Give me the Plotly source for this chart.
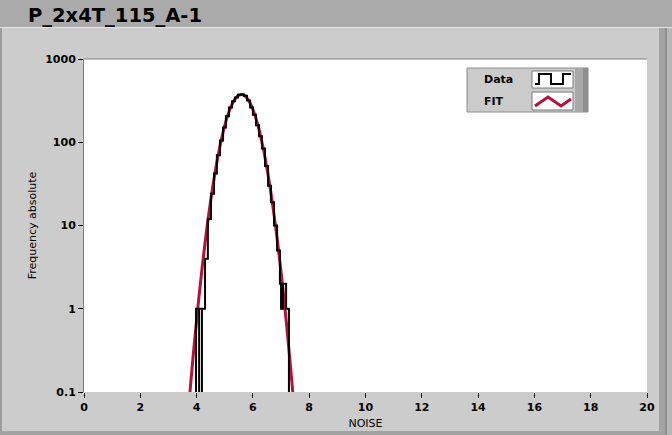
import plotly.graph_objects as go

# ---------------- data ----------------
# Histogram "Data": step positions (NOISE) and absolute counts.
# Repeated x values with a 0/lower count are the narrow dips visible in the tails.
data_x = [3.98, 3.98, 4.09, 4.09, 4.19, 4.19, 4.30, 4.40, 4.51, 4.62, 4.72, 4.83,
          4.94, 5.04, 5.15, 5.26, 5.36, 5.47, 5.58, 5.68, 5.79, 5.90, 6.00, 6.11,
          6.22, 6.32, 6.43, 6.54, 6.64, 6.75, 6.86, 6.96, 7.00, 7.07, 7.18, 7.28]
data_counts = [0, 1, 0, 1, 0, 1, 4, 12, 24, 42, 70, 105,
               150, 205, 262, 310, 345, 372, 375, 362, 318, 262, 214, 160,
               118, 84, 52, 30, 19, 10, 5, 2, 1, 2, 1, 0]

# Gaussian "FIT" curve
fit_x = [3.7, 3.8, 3.9, 4.0, 4.1, 4.2, 4.3, 4.4, 4.5, 4.6, 4.7, 4.8, 4.9, 5.0,
         5.1, 5.2, 5.3, 5.4, 5.5, 5.6, 5.7, 5.8, 5.9, 6.0, 6.1, 6.2, 6.3, 6.4,
         6.5, 6.6, 6.7, 6.8, 6.9, 7.0, 7.1, 7.2, 7.3, 7.4, 7.5]
fit_y = [0.056, 0.138, 0.325, 0.73, 1.56, 3.18, 6.16, 11.4, 19.9, 33.3, 53.1, 80.3,
         115.7, 158.8, 207.3, 257.6, 304.7, 343.0, 367.6, 374.9, 364.0, 336.3, 295.8,
         247.6, 197.3, 149.6, 108.0, 74.2, 48.5, 30.2, 17.9, 10.1, 5.42, 2.77, 1.35,
         0.623, 0.274, 0.115, 0.046]

y_tick_vals = [0.1, 1, 10, 100, 1000]
y_tick_text = ["0.1", "1", "10", "100", "1000"]
x_tick_vals = [0, 2, 4, 6, 8, 10, 12, 14, 16, 18, 20]

title_text = "P_2x4T_115_A-1"
legend_names = ["Data", "FIT"]

# ---------------- layout geometry ----------------
W, H = 672, 435
L, R, T, B = 84, 647, 59, 392   # plot area in pixels


def px(p):
    return (p - L) / (R - L)


def py(p):
    return (B - p) / (B - T)


FLOOR = 1e-3  # zero counts drawn down to (below) the axis floor
data_plot_y = [c if c > 0 else FLOOR for c in data_counts]

fig = go.Figure()
fig.add_trace(go.Scatter(x=fit_x, y=fit_y, mode="lines", name=legend_names[1],
                         line=dict(color="#b3123f", width=3, shape="spline", smoothing=0.6),
                         showlegend=False, hoverinfo="skip"))
fig.add_trace(go.Scatter(x=data_x, y=data_plot_y, mode="lines", name=legend_names[0],
                         line=dict(color="#000000", width=2, shape="hv"),
                         showlegend=False, hoverinfo="skip"))

font_family = "DejaVu Sans"
shapes = []
# top title band
shapes.append(dict(type="rect", xref="paper", yref="paper", layer="below",
                   x0=px(0), x1=px(W), y0=py(27), y1=py(0),
                   fillcolor="#aaaaaa", line=dict(width=0)))
shapes.append(dict(type="line", xref="paper", yref="paper", layer="below",
                   x0=px(0), x1=px(W), y0=py(27.5), y1=py(27.5),
                   line=dict(color="#e4e4e4", width=1)))
# left panel edge
shapes.append(dict(type="line", xref="paper", yref="paper", layer="below",
                   x0=px(1), x1=px(1), y0=py(28), y1=py(H),
                   line=dict(color="#9c9c9c", width=2)))
# right panel edge strips
shapes.append(dict(type="rect", xref="paper", yref="paper", layer="below",
                   x0=px(659), x1=px(665), y0=py(28), y1=py(H),
                   fillcolor="#a3a3a3", line=dict(width=0)))
shapes.append(dict(type="rect", xref="paper", yref="paper", layer="below",
                   x0=px(665), x1=px(667), y0=py(28), y1=py(H),
                   fillcolor="#8f8f8f", line=dict(width=0)))
shapes.append(dict(type="rect", xref="paper", yref="paper", layer="below",
                   x0=px(667), x1=px(W), y0=py(28), y1=py(H),
                   fillcolor="#b8b8b8", line=dict(width=0)))
# bottom panel edge
shapes.append(dict(type="rect", xref="paper", yref="paper", layer="below",
                   x0=px(0), x1=px(659), y0=py(H), y1=py(431),
                   fillcolor="#a3a3a3", line=dict(width=0)))
# plot area top border
shapes.append(dict(type="line", xref="paper", yref="paper",
                   x0=0, x1=1, y0=1, y1=1, line=dict(color="#808080", width=1)))

# legend box
LX0, LX1, LY0, LY1 = 467, 588, 68, 112
shapes.append(dict(type="rect", xref="paper", yref="paper",
                   x0=px(LX0), x1=px(LX1), y0=py(LY1), y1=py(LY0),
                   fillcolor="#cbcbcb", line=dict(color="#8c8c8c", width=1)))
shapes.append(dict(type="rect", xref="paper", yref="paper",
                   x0=px(575), x1=px(LX1), y0=py(LY1), y1=py(LY0),
                   fillcolor="#a8a8a8", line=dict(width=0)))
shapes.append(dict(type="rect", xref="paper", yref="paper",
                   x0=px(583), x1=px(LX1), y0=py(LY1), y1=py(LY0),
                   fillcolor="#8e8e8e", line=dict(width=0)))
for (sy0, sy1) in [(71, 88), (92, 110)]:
    shapes.append(dict(type="rect", xref="paper", yref="paper",
                       x0=px(532), x1=px(573), y0=py(sy1), y1=py(sy0),
                       fillcolor="#ffffff", line=dict(color="#7a7a7a", width=1)))


def ppath(pts):
    return "M " + " L ".join(f"{px(a):.5f},{py(b):.5f}" for a, b in pts)


shapes.append(dict(type="path", xref="paper", yref="paper",
                   path=ppath([(535, 84), (539, 84), (539, 74), (551, 74), (551, 84),
                               (563, 84), (563, 74), (571, 74)]),
                   line=dict(color="#000000", width=2)))
shapes.append(dict(type="path", xref="paper", yref="paper",
                   path=ppath([(535, 106), (548, 97), (561, 106), (571, 99)]),
                   line=dict(color="#b3123f", width=3)))

annotations = [
    dict(text=title_text, xref="paper", yref="paper", x=px(26), y=py(15),
         xanchor="left", yanchor="middle", showarrow=False,
         font=dict(family=font_family, size=19.5, color="#000000", weight="bold")),
    dict(text=legend_names[0], xref="paper", yref="paper", x=px(482), y=py(79),
         xanchor="left", yanchor="middle", showarrow=False,
         font=dict(family=font_family, size=11, color="#000000", weight="bold")),
    dict(text=legend_names[1], xref="paper", yref="paper", x=px(482), y=py(101),
         xanchor="left", yanchor="middle", showarrow=False,
         font=dict(family=font_family, size=11, color="#000000", weight="bold")),
]

fig.update_layout(
    width=W, height=H,
    margin=dict(l=L, r=W - R, t=T, b=H - B, pad=0, autoexpand=False),
    paper_bgcolor="#cccccc",
    plot_bgcolor="#ffffff",
    showlegend=False,
    shapes=shapes,
    annotations=annotations,
    xaxis=dict(range=[0, 20], tickvals=x_tick_vals, showgrid=False, zeroline=False,
               showline=False, ticks="outside", ticklen=5, tickcolor="#000000",
               automargin=False,
               tickfont=dict(family=font_family, size=11, color="#000000", weight="bold"),
               title=dict(text="NOISE", standoff=6,
                          font=dict(family=font_family, size=11, color="#000000"))),
    yaxis=dict(type="log", range=[-1, 3], tickvals=y_tick_vals, ticktext=y_tick_text,
               showgrid=False, zeroline=False, showline=True, linecolor="#808080",
               linewidth=1, ticks="outside", ticklen=5, tickcolor="#000000",
               automargin=False,
               tickfont=dict(family=font_family, size=11, color="#000000", weight="bold"),
               title=dict(text="Frequency absolute", standoff=6,
                          font=dict(family=font_family, size=11, color="#000000"))),
)

fig.write_html("out.html", config={"displayModeBar": False},
               post_script="document.body.style.margin='0px';document.body.style.overflow='hidden';")
